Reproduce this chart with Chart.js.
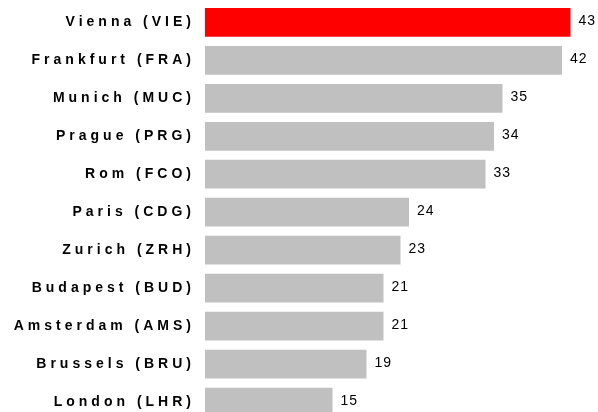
<!DOCTYPE html>
<html lang="en">
<head>
    <meta charset="UTF-8">
    <title>Airports</title>
    <style>
        html, body {
            margin: 0;
            padding: 0;
            background: #fff;
            overflow: hidden;
        }
        #wrap {
            width: 598px;
            height: 421px;
        }
    </style>
</head>
<body>
    <div id="wrap">
        <canvas id="airportChart" width="598" height="421"></canvas>
    </div>

    <script src="https://cdn.jsdelivr.net/npm/chart.js"></script>
    <script>
        const airports = ['Vienna (VIE)', 'Frankfurt (FRA)', 'Munich (MUC)', 'Prague (PRG)', 'Rom (FCO)', 'Paris (CDG)',
            'Zurich (ZRH)', 'Budapest (BUD)', 'Amsterdam (AMS)', 'Brussels (BRU)', 'London (LHR)'];
        const counts = [43, 42, 35, 34, 33, 24, 23, 21, 21, 19, 15];
        const barColors = ['#ff0000', '#c0c0c0', '#c0c0c0', '#c0c0c0', '#c0c0c0', '#c0c0c0',
            '#c0c0c0', '#c0c0c0', '#c0c0c0', '#c0c0c0', '#c0c0c0'];

        // letter spacing for the airport names, values drawn next to each bar
        const spacingPlugin = {
            id: 'spacing',
            beforeDraw(chart) {
                chart.ctx.letterSpacing = '4px';
            },
            afterDatasetsDraw(chart) {
                const ctx = chart.ctx;
                const meta = chart.getDatasetMeta(0);
                ctx.save();
                ctx.letterSpacing = '1px';
                ctx.font = '14px "Liberation Sans", Arial, sans-serif';
                ctx.fillStyle = '#000';
                ctx.textAlign = 'left';
                ctx.textBaseline = 'middle';
                meta.data.forEach((bar, i) => {
                    ctx.fillText(String(counts[i]), bar.x + 8, bar.y - 1);
                });
                ctx.restore();
            },
            afterDraw(chart) {
                chart.ctx.letterSpacing = '0px';
            }
        };

        const ctx = document.getElementById('airportChart').getContext('2d');
        new Chart(ctx, {
            type: 'bar',
            data: {
                labels: airports,
                datasets: [{
                    data: counts,
                    backgroundColor: barColors,
                    borderWidth: 0,
                    barPercentage: 0.757,
                    categoryPercentage: 1
                }]
            },
            options: {
                indexAxis: 'y',
                responsive: false,
                animation: false,
                layout: {
                    padding: { left: 0, right: 2, top: 3.4, bottom: 0 }
                },
                plugins: {
                    legend: { display: false },
                    tooltip: { enabled: false }
                },
                scales: {
                    x: {
                        display: false,
                        min: 0,
                        max: 46
                    },
                    y: {
                        afterFit(scale) {
                            scale.width = 205;
                            scale.paddingTop = 0;
                            scale.paddingBottom = 0;
                        },
                        grid: { display: false, drawTicks: false },
                        border: { display: false },
                        ticks: {
                            padding: 10,
                            color: '#000',
                            font: { family: '"Liberation Sans", Arial, sans-serif', size: 14, weight: 'bold' }
                        }
                    }
                }
            },
            plugins: [spacingPlugin]
        });
    </script>
</body>
</html>
